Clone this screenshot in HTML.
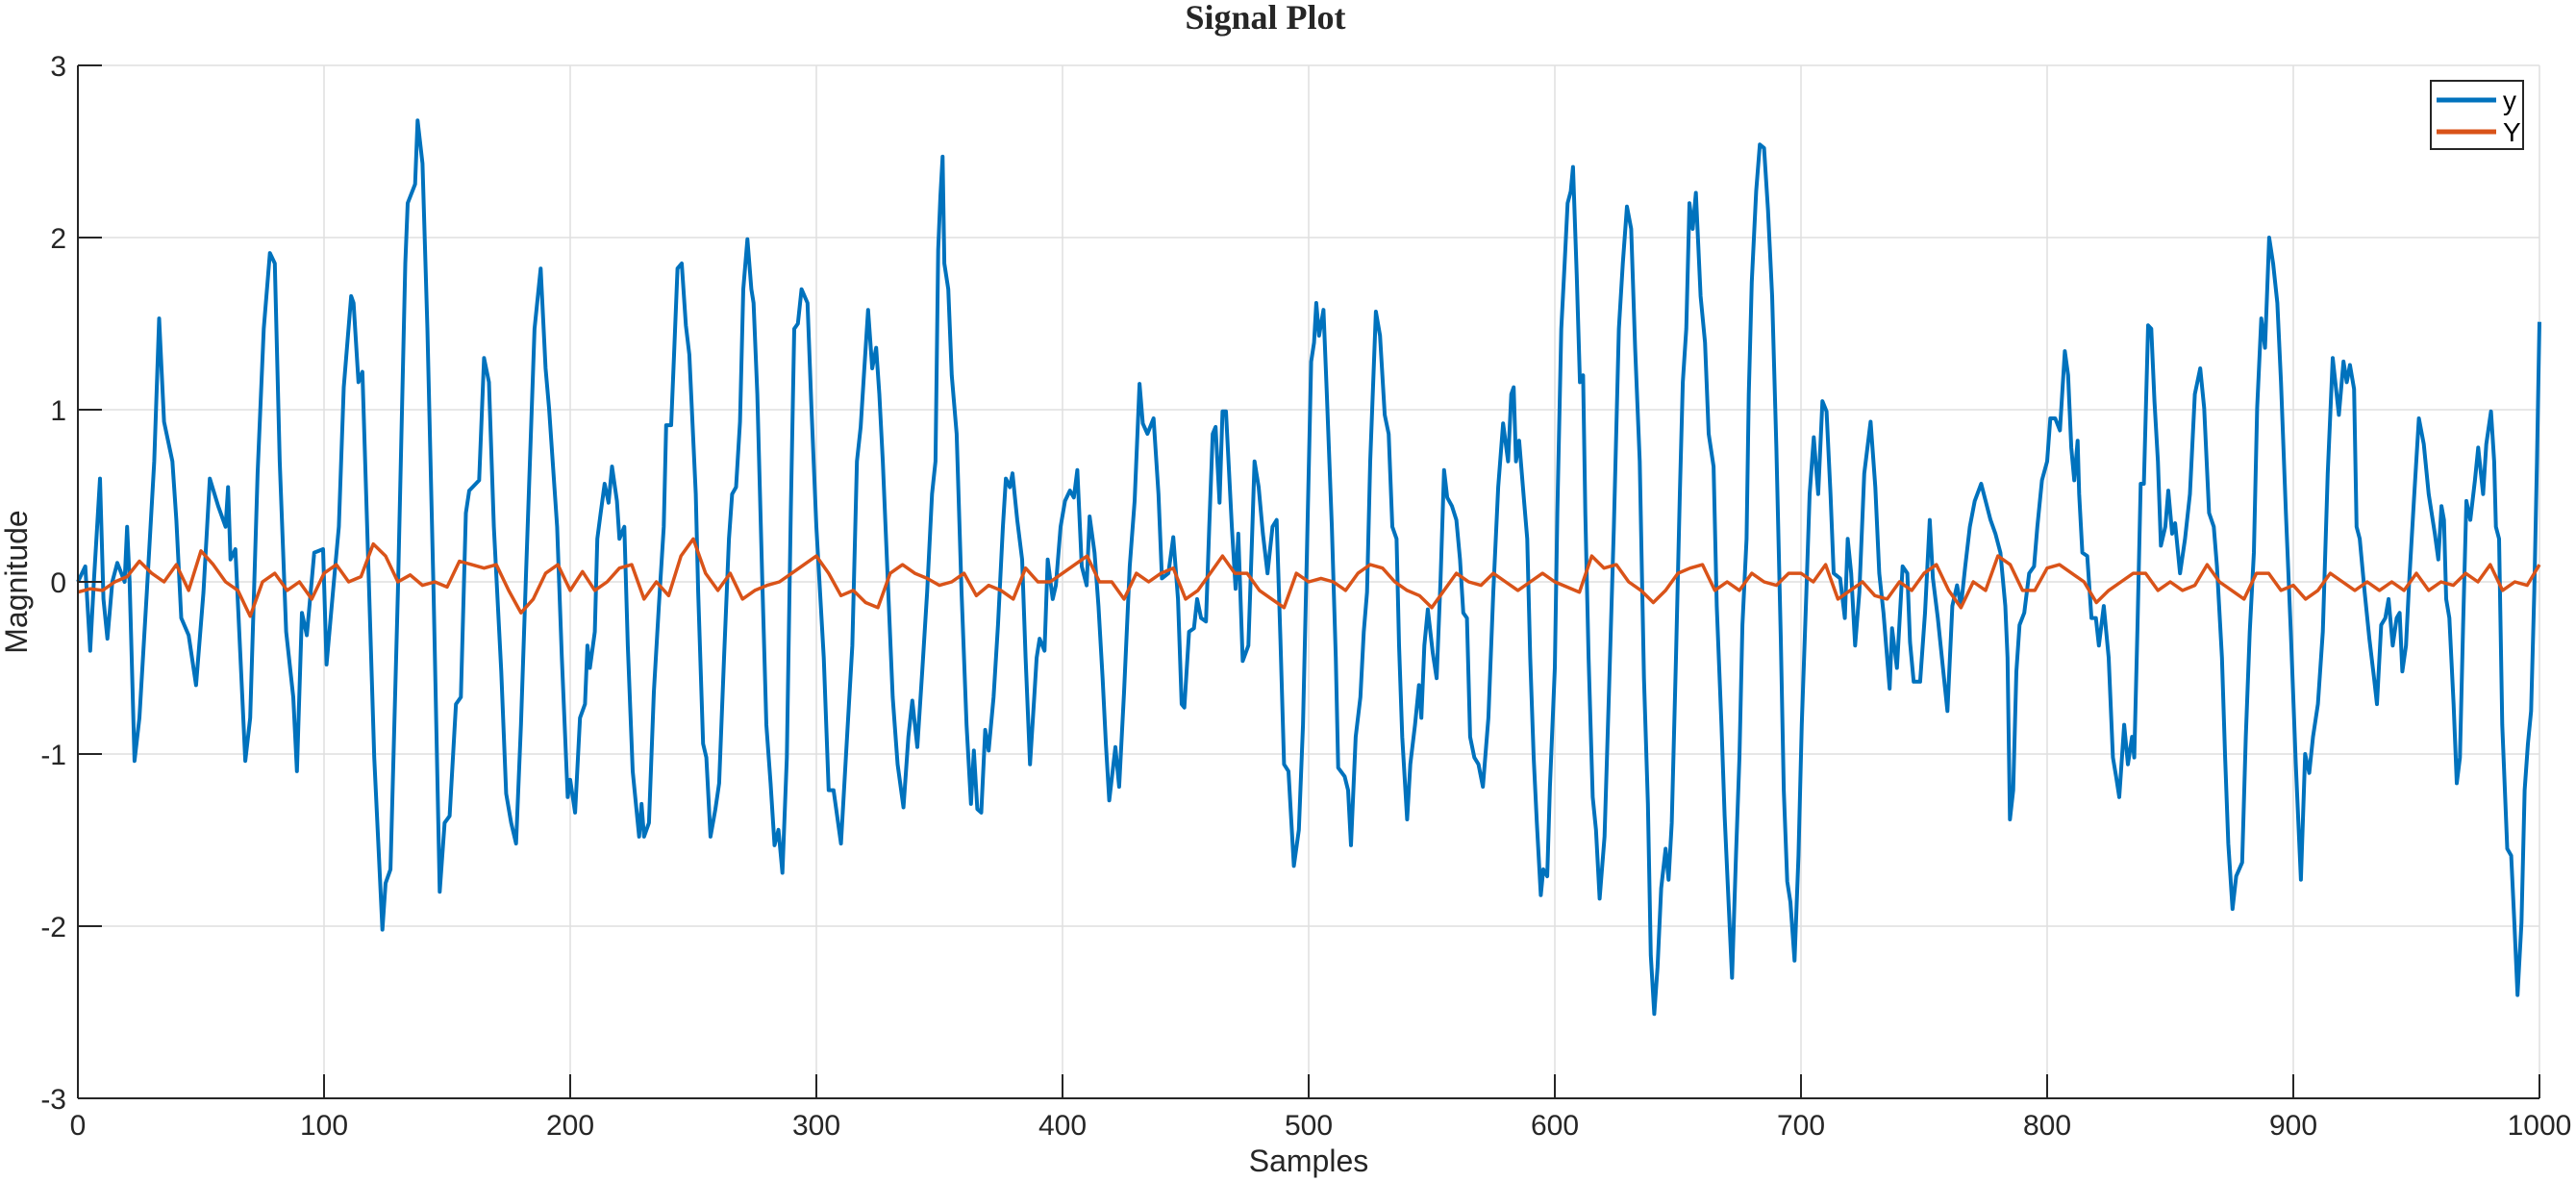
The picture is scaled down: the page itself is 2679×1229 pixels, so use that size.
<!DOCTYPE html>
<html><head><meta charset="utf-8"><style>
html,body{margin:0;padding:0;background:#fff;}
svg{display:block;}
</style></head><body>
<svg id="chart" width="2679" height="1229" xmlns="http://www.w3.org/2000/svg" font-family="Liberation Sans, DejaVu Sans, sans-serif">
<rect x="0" y="0" width="2679" height="1229" fill="#fff"/>
<g id="grid"></g>
<g id="series"></g>
<g id="axes"></g>
<text x="1316" y="30" text-anchor="middle" font-family="Liberation Serif, DejaVu Serif, serif" font-weight="bold" font-size="36" fill="#262626">Signal Plot</text>
<text x="1361" y="1218" text-anchor="middle" font-size="32" fill="#262626">Samples</text>
<text x="28" y="605" text-anchor="middle" font-size="32" fill="#262626" transform="rotate(-90 28 605)">Magnitude</text>
<g>
<rect x="2528" y="84" width="96" height="71" fill="#fff" stroke="#262626" stroke-width="2"/>
<line x1="2534" y1="104" x2="2596" y2="104" stroke="#0072BD" stroke-width="5"/>
<text x="2603" y="114" font-size="28" fill="#000">y</text>
<line x1="2534" y1="137" x2="2596" y2="137" stroke="#D95319" stroke-width="5"/>
<text x="2603" y="147" font-size="28" fill="#000">Y</text>
</g>
</svg>
<script>
const xTicks=[0,100,200,300,400,500,600,700,800,900,1000];
const yTicks=[-3,-2,-1,0,1,2,3];
const ySamples=[0,3,5,6.5,9,10.4,12,14,16,19,20,21,23,25,28,31,33,35,38.4,40,42,45,48,51,53.6,57,60,61,62,64,68,70,73,75.5,78,80,82,84.6,87.5,89,91,93,96,99.6,101,104,106,108,111,112,114,115.6,118,120.4,123.7,125,127,130,133,134,137,138,140,142,144.5,147,149,151,153.6,155.6,157.6,159,163,165,167,169,172,174,176,178,180,182,185.5,188,190,191.4,194.7,196.6,199,
200,202,204,206,207,208,210,211,212.4,214,215.6,217,219,220,222,223.4,225.4,228,229,230,232,234,236,238,239,241,242.3,243.6,245.3,247,248.4,251,252,254,255.3,257,259,260.5,262.5,264.5,265.8,267.4,269,270.3,272,273.6,274.5,276,278,279.7,281.4,283,284.6,286.2,288,289.6,291,292.5,294,296.4,298,300,303,305,307,310,312,314.6,316.5,318,319.5,321,322.7,324.3,325.6,327,329,331,333,335.4,337.4,339,341,343,345,347,348.4,349.5,350.4,351.3,352,353.6,355,357,359,361,362.8,364,365.4,367,368.6,370,372,373.8,375.8,377,378.6,379.7,381.6,383.6,385,386.8,388.5,389.5,390.7,392.7,394,396,397.3,399.2,
401,403,404.6,406,407.8,409.8,411,413,414.6,416.3,417.6,419,421.5,423,425,427.3,429.3,431.3,432.6,434.5,437,439,440.4,443,445,446.9,448.4,449.5,451.4,453.4,454.7,456.3,458.3,459.6,461,462.2,463.8,465,466.4,468.8,470.3,471.4,473.2,475.5,476.8,478,479.7,481.4,483.3,485.3,487,488.5,490,491.8,494,496,497.7,499.2,501,502.2,503.1,504.2,506,507.4,509.4,511,512,514.6,516,517.2,519.1,521,522.4,523.7,525,527.3,529,530.9,532.5,534,535.7,536.7,538,540,541.3,543.2,544.8,545.8,547,548.4,550.4,552,553.6,555,556.3,558.2,560,561.5,562.8,564.3,565.6,567.3,569,570.8,573,575,577,579,581,582.3,583.3,584.2,585.5,587.5,588.8,590,591.4,592.7,594.3,595.3,596.9,598,600,
601,602.6,604,605.2,606.5,607.4,608.9,610.2,611.5,612.4,613.7,615.4,616.7,618.2,620.2,622,624,626,627.6,629.3,631,632.6,634.5,636.2,637.8,639,640.4,641.7,643.2,645,646.2,647.5,649.2,650.8,652,653.4,654.7,656,657.3,659.2,661,662.5,664.5,665.8,667.7,669,670.7,672,673.6,675,676.2,677.9,678.8,680,681.8,683.3,685,686.6,688.3,690,691.8,693,694.4,695.7,697.4,699,700.3,702.2,703.5,705.2,707,708.7,710.4,712,713.3,715.9,717.8,719,720.4,722,723.7,725.7,728.3,730.2,731.8,733.5,736,737,739,741.3,743.2,744.3,745.8,748.4,750.4,752.3,753.6,755.6,757.8,759.5,761.5,763.4,765,766.7,768.6,770.6,773.2,775,777,779,781,783,783.9,784.9,786.2,787.5,788.8,790.7,792.7,794.7,796,797.9,
800,801.3,803.3,805.2,807.2,808.5,809.8,811,812.4,813,814.3,816.3,818,819.8,821,823,825,826.7,828,829.3,831.3,832.8,834.5,835.4,836.7,838,839.3,841,842.3,843.6,845,846.2,848,849.2,850.8,852,854,856,858,860,862.2,863.8,865.8,867.7,869,871,872.3,873.6,875.3,876.8,879.2,880.7,882.3,884,885.3,887,888.5,890.2,891.8,893.5,895,897,899,901,903.1,904.8,906.5,908,910,912,914,916,918.5,920.4,921.7,923,924.7,925.7,927,929,930.9,932.8,934,935.7,937.4,938.7,940.4,942,943.2,944.3,945.8,947,949,951,953,955,957.5,958.9,960.2,961.2,962.1,963.4,965.1,966.4,967.7,969,970.3,971.9,973.8,975.1,977.1,978.4,980.3,981.6,982.3,983.6,984.9,986.9,988.5,989.8,991.1,992.7,994,995.3,996.6,997.9,999,1000];
const yValues=[0,0.09,-0.4,0,0.6,-0.1,-0.33,0,0.11,0,0.32,0,-1.04,-0.79,-0.06,0.7,1.53,0.93,0.7,0.36,-0.21,-0.31,-0.6,-0.06,0.6,0.44,0.32,0.55,0.13,0.19,-1.04,-0.79,0.63,1.47,1.91,1.85,0.7,-0.29,-0.67,-1.1,-0.18,-0.31,0.17,0.19,-0.48,0,0.32,1.13,1.66,1.62,1.16,1.22,0.09,-1.02,-2.02,-1.75,-1.67,-0.06,1.85,2.2,2.31,2.68,2.43,1.47,-0.06,-1.8,-1.4,-1.36,-0.71,-0.67,0.4,0.53,0.59,1.3,1.16,0.32,-0.52,-1.23,-1.4,-1.52,-0.83,0.02,1.47,1.82,1.24,1.01,0.32,-0.44,-1.25,
-1.15,-1.34,-0.79,-0.71,-0.37,-0.5,-0.29,0.25,0.4,0.57,0.46,0.67,0.47,0.25,0.32,-0.37,-1.1,-1.48,-1.29,-1.48,-1.4,-0.64,-0.14,0.32,0.91,0.91,1.36,1.82,1.85,1.49,1.32,0.51,-0.06,-0.94,-1.02,-1.48,-1.32,-1.17,-0.44,0.25,0.51,0.55,0.93,1.7,1.99,1.7,1.62,1.09,0.02,-0.83,-1.17,-1.53,-1.44,-1.69,-1.02,0.4,1.47,1.5,1.7,1.62,1.01,0.32,-0.44,-1.21,-1.21,-1.52,-1.02,-0.37,0.7,0.9,1.24,1.58,1.24,1.36,1.09,0.7,0.02,-0.67,-1.06,-1.31,-0.9,-0.69,-0.96,-0.52,-0.06,0.51,0.7,1.93,2.24,2.47,1.85,1.7,1.2,0.86,-0.06,-0.83,-1.29,-0.98,-1.32,-1.34,-0.86,-0.98,-0.67,-0.25,0.32,0.6,0.55,0.63,0.36,0.13,-0.44,-1.06,-0.67,-0.44,-0.33,-0.4,0.13,-0.1,-0.02,0.32,
0.47,0.53,0.49,0.65,0.09,-0.02,0.38,0.17,-0.14,-0.56,-0.94,-1.27,-0.96,-1.19,-0.64,0.09,0.47,1.15,0.92,0.86,0.95,0.51,0.02,0.05,0.26,-0.1,-0.71,-0.73,-0.29,-0.27,-0.1,-0.21,-0.23,0.32,0.86,0.9,0.46,0.99,0.99,0.32,-0.04,0.28,-0.46,-0.37,0.17,0.7,0.55,0.28,0.05,0.32,0.36,-0.33,-1.06,-1.1,-1.65,-1.44,-0.83,0.13,1.28,1.39,1.62,1.43,1.58,1.09,0.32,-0.44,-1.08,-1.13,-1.21,-1.53,-0.9,-0.67,-0.29,-0.06,0.7,1.57,1.43,0.97,0.86,0.32,0.25,-0.37,-0.9,-1.38,-1.06,-0.83,-0.6,-0.79,-0.37,-0.16,-0.41,-0.56,0.02,0.65,0.49,0.44,0.36,0.13,-0.18,-0.21,-0.9,-1.02,-1.06,-1.19,-0.79,-0.06,0.55,0.92,0.7,1.09,1.13,0.7,0.82,0.47,0.25,-0.44,-1.02,-1.4,-1.82,-1.67,-1.71,-1.19,-0.5,
0.4,1.47,1.85,2.2,2.27,2.41,1.78,1.16,1.2,0.4,-0.44,-1.25,-1.44,-1.84,-1.48,-0.64,0.32,1.47,1.85,2.18,2.05,1.36,0.7,-0.56,-1.29,-2.17,-2.51,-2.24,-1.78,-1.55,-1.73,-1.4,-0.44,0.51,1.16,1.47,2.2,2.05,2.26,1.66,1.39,0.86,0.67,-0.14,-0.83,-1.36,-1.9,-2.3,-1.59,-1.02,-0.25,0.25,1.09,1.74,2.27,2.54,2.52,2.16,1.66,0.78,-0.33,-1.21,-1.74,-1.86,-2.2,-1.59,-0.83,-0.06,0.51,0.84,0.51,1.05,0.99,0.51,0.05,0.02,-0.21,0.25,0.05,-0.37,-0.06,0.63,0.93,0.55,0.05,-0.18,-0.62,-0.27,-0.5,0.09,0.05,-0.35,-0.58,-0.58,-0.18,0.36,0.02,-0.21,-0.52,-0.75,-0.14,-0.02,-0.14,0.09,0.32,0.47,0.57,0.47,0.36,0.28,0.17,-0.14,-0.44,-1.38,-1.21,-0.52,-0.25,-0.18,0.05,0.09,0.32,0.59,
0.7,0.95,0.95,0.88,1.34,1.2,0.78,0.59,0.82,0.51,0.17,0.15,-0.21,-0.21,-0.37,-0.14,-0.44,-1.02,-1.13,-1.25,-0.83,-1.06,-0.9,-1.02,-0.25,0.57,0.57,1.49,1.47,1.05,0.7,0.21,0.32,0.53,0.28,0.34,0.05,0.25,0.51,1.09,1.24,1.01,0.4,0.32,0.09,-0.44,-1.02,-1.52,-1.9,-1.71,-1.63,-0.9,-0.29,0.17,1.01,1.53,1.36,2.0,1.85,1.62,1.16,0.4,-0.29,-1.06,-1.73,-1.0,-1.11,-0.9,-0.71,-0.29,0.63,1.3,0.97,1.28,1.16,1.26,1.12,0.32,0.25,-0.06,-0.33,-0.56,-0.71,-0.25,-0.21,-0.1,-0.37,-0.21,-0.18,-0.52,-0.37,-0.02,0.47,0.95,0.8,0.51,0.28,0.13,0.44,0.36,-0.1,-0.21,-0.71,-1.17,-1.02,-0.25,0.47,0.36,0.59,0.78,0.51,0.8,0.99,0.7,0.32,0.25,-0.83,-1.55,-1.59,-1.98,-2.4,-1.98,-1.21,-0.94,-0.75,-0.06,0.7,1.51];
const bigYSamples=[0,5,10,15,20,25,30,35,40,45,50,55,60,65,70,75,80,85,90,95,100,105,110,115,120,125,130,135,140,145,150,155,160,165,170,175,180,185,190,195,200,205,210,215,220,225,230,235,240,245,250,255,260,265,270,275,280,285,290,295,300,305,310,315,320,325,330,335,340,345,350,355,360,365,370,375,380,385,390,395,400,405,410,415,420,425,430,435,440,445,450,455,460,465,470,475,480,485,490,495,500,505,510,515,520,525,530,535,540,545,550,555,560,565,570,575,580,585,590,595,600,605,610,615,620,625,630,635,640,645,650,655,660,665,670,675,680,685,690,695,700,705,710,715,720,725,730,735,740,745,750,755,760,765,770,775,780,785,790,795,800,805,810,815,820,825,830,835,840,845,850,855,860,865,870,875,880,885,890,895,900,905,910,915,920,925,930,935,940,945,950,955,960,965,970,975,980,985,990,995,1000];
const bigYValues=[-0.06,-0.04,-0.05,0,0.03,0.12,0.05,0,0.1,-0.05,0.18,0.1,0,-0.05,-0.2,0,0.05,-0.05,0,-0.1,0.05,0.1,0,0.03,0.22,0.15,0,0.04,-0.02,0,-0.03,0.12,0.1,0.08,0.1,-0.05,-0.18,-0.1,0.05,0.1,
-0.05,0.06,-0.05,0,0.08,0.1,-0.1,0,-0.08,0.15,0.25,0.05,-0.05,0.05,-0.1,-0.05,-0.02,0,0.05,0.1,0.15,0.05,-0.08,-0.05,-0.12,-0.15,0.05,0.1,0.05,0.02,-0.02,0,0.05,-0.08,-0.02,-0.05,-0.1,0.08,0,0,
0.05,0.1,0.15,0,0,-0.1,0.05,0,0.05,0.08,-0.1,-0.05,0.05,0.15,0.05,0.05,-0.05,-0.1,-0.15,0.05,0,0.02,0,-0.05,0.05,0.1,0.08,0,-0.05,-0.08,-0.15,-0.05,0.05,0,-0.02,0.05,0,-0.05,0,0.05,
0,-0.03,-0.06,0.15,0.08,0.1,0,-0.05,-0.12,-0.05,0.05,0.08,0.1,-0.05,0,-0.05,0.05,0,-0.02,0.05,0.05,0,0.1,-0.1,-0.05,0,-0.08,-0.1,0,-0.05,0.05,0.1,-0.05,-0.15,0,-0.05,0.15,0.1,-0.05,-0.05,
0.08,0.1,0.05,0,-0.12,-0.05,0,0.05,0.05,-0.05,0,-0.05,-0.02,0.1,0,-0.05,-0.1,0.05,0.05,-0.05,-0.02,-0.1,-0.05,0.05,0,-0.05,0,-0.05,0,-0.05,0.05,-0.05,0,-0.02,0.05,0,0.1,-0.05,0,-0.02,0.1];

const NS='http://www.w3.org/2000/svg';
const L=81,R=2641,T=68,B=1142;
const xMin=0,xMax=1000,yMin=-3,yMax=3;
function sx(v){return L+(v-xMin)/(xMax-xMin)*(R-L);}
function sy(v){return B-(v-yMin)/(yMax-yMin)*(B-T);}
function mk(tag,attrs,parent){const e=document.createElementNS(NS,tag);for(const k in attrs)e.setAttribute(k,attrs[k]);parent.appendChild(e);return e;}
const grid=document.getElementById('grid'),axes=document.getElementById('axes'),series=document.getElementById('series');
xTicks.forEach(t=>{
  const g=mk('line',{x1:sx(t),x2:sx(t),y1:T,y2:B,stroke:'#dfdfdf','stroke-width':1.5},grid);
  
  
  const tk=mk('line',{x1:sx(t),x2:sx(t),y1:B,y2:B-25,stroke:'#262626','stroke-width':2},axes);
  
  
  const lb=mk('text',{x:sx(t),y:B+38,'text-anchor':'middle','font-size':30,fill:'#262626'},axes);
  lb.textContent=t;
  
  
});
yTicks.forEach(t=>{
  const g=mk('line',{x1:L,x2:R,y1:sy(t),y2:sy(t),stroke:'#dfdfdf','stroke-width':1.5},grid);
  
  
  const tk=mk('line',{x1:L,x2:L+25,y1:sy(t),y2:sy(t),stroke:'#262626','stroke-width':2},axes);
  
  
  const lb=mk('text',{x:L-12,y:sy(t)+11,'text-anchor':'end','font-size':30,fill:'#262626'},axes);
  lb.textContent=t;
  
  
});
const xa=mk('line',{x1:L,x2:R,y1:B,y2:B,stroke:'#262626','stroke-width':2},axes);


const ya=mk('line',{x1:L,x2:L,y1:T,y2:B,stroke:'#262626','stroke-width':2},axes);


function path(xs,ys){return xs.map((x,i)=>(i?'L':'M')+sx(x).toFixed(1)+' '+sy(ys[i]).toFixed(1)).join(' ');}
const p1=mk('path',{d:path(ySamples,yValues),fill:'none',stroke:'#0072BD','stroke-width':4,'stroke-linejoin':'round'},series);


const p2=mk('path',{d:path(bigYSamples,bigYValues),fill:'none',stroke:'#D95319','stroke-width':3.5,'stroke-linejoin':'round'},series);


</script>
</body></html>
